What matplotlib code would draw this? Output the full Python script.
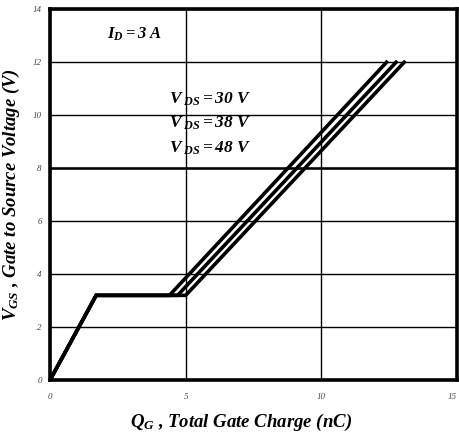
import matplotlib
matplotlib.use("Agg")
import matplotlib.pyplot as plt

# Gate charge curves (Q_G in nC vs V_GS in V) for three V_DS values
vgs = [0, 3.2, 3.2, 12.0]
qg_30v = [0, 1.7, 4.4, 12.4]
qg_38v = [0, 1.7, 4.7, 12.75]
qg_48v = [0, 1.7, 5.0, 13.05]

x_ticks = [0, 5, 10, 15]
y_ticks = [0, 2, 4, 6, 8, 10, 12, 14]

plt.rcParams['font.family'] = 'Liberation Serif'
plt.rcParams['mathtext.fontset'] = 'custom'
plt.rcParams['mathtext.rm'] = 'Liberation Serif:italic:bold'
plt.rcParams['mathtext.it'] = 'Liberation Serif:italic:bold'
plt.rcParams['mathtext.bf'] = 'Liberation Serif:italic:bold'

fig = plt.figure(figsize=(4.6, 4.42), dpi=100)
ax = fig.add_axes([0.1087, 0.140, 0.885, 0.839])

# Curves
for qg in (qg_30v, qg_38v, qg_48v):
    ax.plot(qg, vgs, color='black', linewidth=2.6, solid_joinstyle='miter', zorder=3)

ax.set_xlim(0, 15)
ax.set_ylim(0, 14)
ax.set_xticks(x_ticks)
ax.set_yticks(y_ticks)

# Grid lines
ax.grid(True, color='black', linewidth=1.0)
ax.axhline(8, color='black', linewidth=1.8)

# Thick frame
for side in ['top', 'right', 'left', 'bottom']:
    ax.spines[side].set_linewidth(2.6)

ax.tick_params(axis='both', which='both', length=0, labelsize=6.5, labelcolor='#444444')
ax.tick_params(axis='x', pad=9)
ax.tick_params(axis='y', pad=6)
for lbl in ax.get_xticklabels() + ax.get_yticklabels():
    lbl.set_fontstyle('italic')
# keep the last x tick label inside the figure
ax.get_xticklabels()[-1].set_horizontalalignment('right')

ax.set_xlabel(r'$Q_G$ , Total Gate Charge (nC)', fontsize=13.5, fontweight='bold',
              fontstyle='italic', labelpad=12)
ax.xaxis.set_label_coords(0.47, -0.085)
ax.set_ylabel(r'$V_{GS}$ , Gate to Source Voltage (V)', fontsize=13.5, fontweight='bold',
              fontstyle='italic', labelpad=8)

# Annotations
ax.text(2.1, 13.05, r'$I_D = 3\ A$', fontsize=12, ha='left', va='center')
ax.text(4.4, 10.6, r'$V_{\ DS} = 30\ V$', fontsize=12.5, ha='left', va='center')
ax.text(4.4, 9.7, r'$V_{\ DS} = 38\ V$', fontsize=12.5, ha='left', va='center')
ax.text(4.4, 8.75, r'$V_{\ DS} = 48\ V$', fontsize=12.5, ha='left', va='center')

fig.savefig('out.png', dpi=100)
